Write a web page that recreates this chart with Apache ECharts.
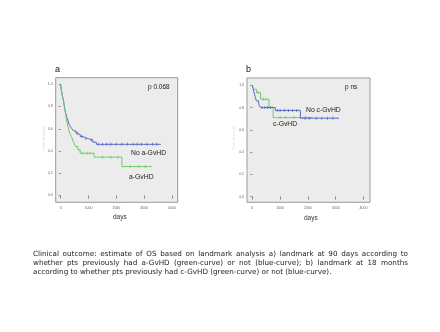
<!DOCTYPE html>
<html>
<head>
<meta charset="utf-8">
<script src="https://cdn.jsdelivr.net/npm/echarts@6/dist/echarts.min.js"></script>
<style>
  html, body { margin: 0; padding: 0; background: #fff; }
  #main { width: 440px; height: 332px; }
</style>
</head>
<body>
<div id="main"></div>
<script>
// panel a : landmark 90 days, a-GvHD
var noAGvhdDays = [0, 15, 35, 55, 75, 95, 120, 150, 180, 210, 250, 300, 350, 400, 470, 550, 620, 700, 800, 900, 1000, 1150, 1280, 3600];
var noAGvhdSurv = [1.0, 0.96, 0.93, 0.9, 0.88, 0.86, 0.82, 0.77, 0.74, 0.71, 0.68, 0.64, 0.62, 0.6, 0.58, 0.56, 0.55, 0.53, 0.52, 0.51, 0.5, 0.48, 0.46, 0.46];
var noAGvhdCensor = [600, 760, 900, 1100, 1350, 1500, 1650, 1800, 2000, 2200, 2400, 2600, 2750, 2900, 3100, 3300, 3450];

var aGvhdDays = [0, 20, 45, 70, 100, 130, 155, 185, 215, 260, 300, 340, 400, 460, 530, 620, 700, 1200, 2200, 3280];
var aGvhdSurv = [1.0, 0.95, 0.92, 0.89, 0.85, 0.8, 0.77, 0.72, 0.67, 0.62, 0.58, 0.55, 0.52, 0.48, 0.44, 0.41, 0.38, 0.345, 0.26, 0.26];
var aGvhdCensor = [800, 950, 1050, 1500, 1800, 2050, 2500, 2800, 3050];

// panel b : landmark 18 months, c-GvHD
var noCGvhdDays = [0, 30, 60, 100, 150, 230, 300, 830, 1730, 3120];
var noCGvhdSurv = [1.0, 0.97, 0.94, 0.9, 0.86, 0.83, 0.8, 0.775, 0.705, 0.705];
var noCGvhdCensor = [350, 450, 550, 650, 900, 1000, 1150, 1300, 1450, 1600, 1900, 2050, 2300, 2500, 2700, 2900];

var cGvhdDays = [0, 40, 150, 300, 600, 750, 2150];
var cGvhdSurv = [1.0, 0.965, 0.935, 0.875, 0.805, 0.71, 0.71];
var cGvhdCensor = [200, 400, 500, 1000, 1200, 1500, 1900];

var xTicks = [0, 1000, 2000, 3000, 4000];
var yTicks = [0, 0.2, 0.4, 0.6, 0.8, 1.0];

var blue = '#5868c8';
var green = '#6ccc6c';

function pairs(xs, ys) {
	var out = [];
	for (var i = 0; i < xs.length; i++) out.push([xs[i], ys[i]]);
	return out;
}

// survival value at a censor time (step function)
function censorPoints(xs, ys, cens) {
	var out = [];
	for (var i = 0; i < cens.length; i++) {
		var v = ys[0];
		for (var j = 0; j < xs.length; j++) {
			if (xs[j] <= cens[i]) v = ys[j];
		}
		out.push([cens[i], v]);
	}
	return out;
}

function xAxisOf(idx, min, max) {
	return {
		type: 'value', gridIndex: idx, min: min, max: max,
		axisLine: {show: false},
		splitLine: {show: false},
		axisTick: {show: true, customValues: xTicks, length: 3, lineStyle: {color: '#888', width: 1}},
		axisLabel: {
			customValues: xTicks, fontSize: 3.5, color: '#666', margin: 4, fontFamily: 'Liberation Sans',
			formatter: function (v) { return String(Math.round(v)); }
		}
	};
}

function yAxisOf(idx, min, max) {
	return {
		type: 'value', gridIndex: idx, min: min, max: max,
		axisLine: {show: false},
		splitLine: {show: false},
		axisTick: {show: true, customValues: yTicks, length: 2, lineStyle: {color: '#888', width: 1}},
		axisLabel: {
			customValues: yTicks, fontSize: 3.5, color: '#666', margin: 3, fontFamily: 'Liberation Sans',
			formatter: function (v) { return v.toFixed(1); }
		}
	};
}

function curve(idx, xs, ys, color) {
	return {
		type: 'line', xAxisIndex: idx, yAxisIndex: idx,
		step: 'end', showSymbol: false, animation: false,
		lineStyle: {color: color, width: 1},
		data: pairs(xs, ys)
	};
}

function censors(idx, xs, ys, cens, color) {
	return {
		type: 'scatter', xAxisIndex: idx, yAxisIndex: idx,
		symbol: 'rect', symbolSize: [1, 3], animation: false,
		itemStyle: {color: color},
		data: censorPoints(xs, ys, cens)
	};
}

var labelFont = 'Liberation Sans';
function txt(x, y, s, size, color, family) {
	return {
		type: 'text', x: x, y: y,
		style: {text: s, fontSize: size, fill: color || '#222', fontFamily: family || labelFont, textVerticalAlign: 'middle'}
	};
}

var caption = [
	'Clinical outcome: estimate of OS based on landmark analysis a) landmark at 90 days according to',
	'whether pts previously had a-GvHD (green-curve) or not (blue-curve); b) landmark at 18 months',
	'according to whether pts previously had c-GvHD (green-curve) or not (blue-curve).'
];
var capLeft = 33, capRight = 408, capTop = 254, capStep = 9, capSize = 7.2;

var graphics = [
	txt(55, 70, 'a', 9, '#111'),
	txt(246, 70, 'b', 9, '#111'),
	txt(148, 87.5, 'p 0.068', 6.5, '#222'),
	txt(345, 87.5, 'p ns', 6.5, '#222'),
	txt(131, 153, 'No a-GvHD', 6.8, '#222'),
	txt(129, 177.5, 'a-GvHD', 6.8, '#222'),
	txt(306, 110, 'No c-GvHD', 6.8, '#222'),
	txt(273, 124.5, 'c-GvHD', 6.8, '#222'),
	txt(113, 217.5, 'days', 6.5, '#333'),
	txt(304, 218.5, 'days', 6.5, '#333'),
	{type: 'text', x: 44, y: 150, rotation: Math.PI / 2,
		style: {text: 'Cum Survival', fontSize: 4, fill: '#d4d4d4', fontFamily: labelFont, textVerticalAlign: 'middle'}},
	{type: 'text', x: 234, y: 150, rotation: Math.PI / 2,
		style: {text: 'Cum Survival', fontSize: 4, fill: '#dcdcdc', fontFamily: labelFont, textVerticalAlign: 'middle'}}
];

// justified caption: lay words out with measured widths (last line left-aligned)
var ctx = document.createElement('canvas').getContext('2d');
ctx.font = capSize + 'px "DejaVu Sans"';
for (var i = 0; i < caption.length; i++) {
	var y = capTop + i * capStep;
	if (i === caption.length - 1) {
		graphics.push(txt(capLeft, y, caption[i], capSize, '#222', 'DejaVu Sans'));
		continue;
	}
	var words = caption[i].split(' ');
	var total = 0;
	for (var w = 0; w < words.length; w++) total += ctx.measureText(words[w]).width;
	var gap = (capRight - capLeft - total) / (words.length - 1);
	var x = capLeft;
	for (var w = 0; w < words.length; w++) {
		graphics.push(txt(x, y, words[w], capSize, '#222', 'DejaVu Sans'));
		x += ctx.measureText(words[w]).width + gap;
	}
}

var myChart = echarts.init(document.getElementById('main'), null, {renderer: 'canvas'});
var option = {
	backgroundColor: '#ffffff',
	animation: false,
	grid: [
		{left: 55.7, top: 77.7, width: 122, height: 124.6, show: true, backgroundColor: '#ececec', borderColor: '#9a9a9a', borderWidth: 1},
		{left: 247, top: 78, width: 123, height: 124.3, show: true, backgroundColor: '#ececec', borderColor: '#9a9a9a', borderWidth: 1}
	],
	xAxis: [xAxisOf(0, -180, 4205), xAxisOf(1, -190, 4234)],
	yAxis: [yAxisOf(0, -0.061, 1.059), yAxisOf(1, -0.051, 1.066)],
	series: [
		curve(0, noAGvhdDays, noAGvhdSurv, blue),
		curve(0, aGvhdDays, aGvhdSurv, green),
		censors(0, noAGvhdDays, noAGvhdSurv, noAGvhdCensor, blue),
		censors(0, aGvhdDays, aGvhdSurv, aGvhdCensor, green),
		curve(1, cGvhdDays, cGvhdSurv, green),
		curve(1, noCGvhdDays, noCGvhdSurv, blue),
		censors(1, cGvhdDays, cGvhdSurv, cGvhdCensor, green),
		censors(1, noCGvhdDays, noCGvhdSurv, noCGvhdCensor, blue)
	],
	graphic: graphics
};
myChart.setOption(option);
</script>
</body>
</html>
